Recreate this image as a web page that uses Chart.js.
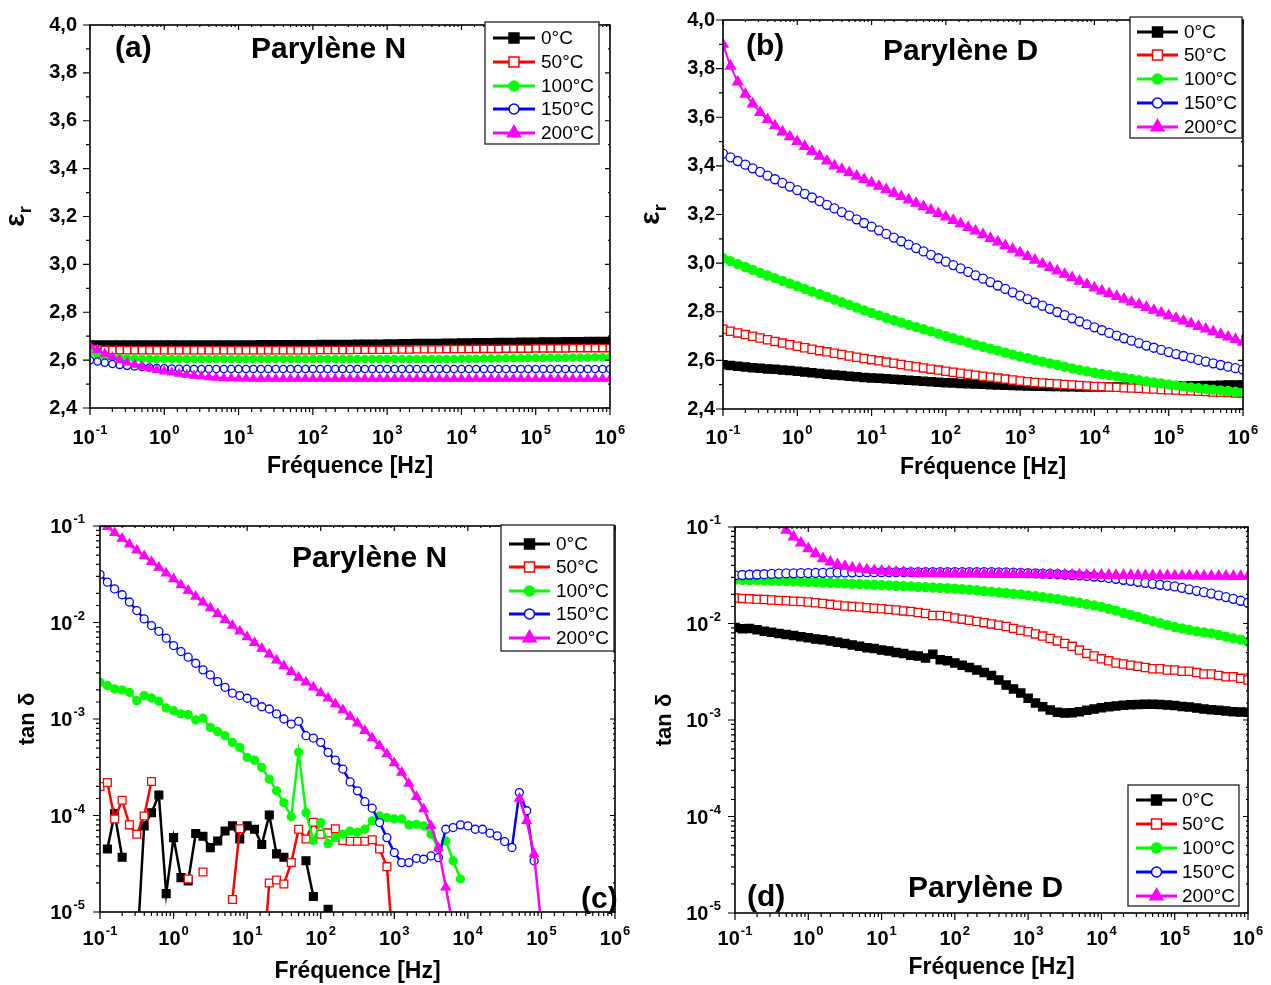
<!DOCTYPE html>
<html>
<head>
<meta charset="utf-8">
<title>Parylène N / D - permittivité et tan δ</title>
<script src="https://cdn.jsdelivr.net/npm/chart.js@4.4.1/dist/chart.umd.min.js"></script>
<style>
  html, body { margin: 0; padding: 0; background: #fff; }
  #wrap { position: relative; width: 1271px; height: 985px; overflow: hidden; }
  #wrap canvas { position: absolute; }
</style>
</head>
<body>
<div id="wrap">
  <canvas id="chartA" width="636" height="490" style="left:0;top:0"></canvas>
  <canvas id="chartB" width="635" height="490" style="left:636px;top:0"></canvas>
  <canvas id="chartC" width="636" height="495" style="left:0;top:490px"></canvas>
  <canvas id="chartD" width="635" height="495" style="left:636px;top:490px"></canvas>
</div>
<script>
// ---- data ----
const temps = ['0°C', '50°C', '100°C', '150°C', '200°C'];

// measurement frequencies, 10 points per decade
const freqHz = [
  0.1, 0.126, 0.158, 0.2, 0.251, 0.316, 0.398, 0.501, 0.631, 0.794,
  1, 1.26, 1.58, 2, 2.51, 3.16, 3.98, 5.01, 6.31, 7.94,
  10, 12.6, 15.8, 20, 25.1, 31.6, 39.8, 50.1, 63.1, 79.4,
  100, 126, 158, 200, 251, 316, 398, 501, 631, 794,
  1000, 1260, 1580, 2000, 2510, 3160, 3980, 5010, 6310, 7940,
  10000, 12600, 15800, 20000, 25100, 31600, 39800, 50100, 63100, 79400,
  100000, 126000, 158000, 200000, 251000, 316000, 398000, 501000, 631000, 794000,
  1000000
];

const epsTicks = [2.4, 2.5, 2.6, 2.7, 2.8, 2.9, 3.0, 3.1, 3.2, 3.3, 3.4, 3.5, 3.6, 3.7, 3.8, 3.9, 4.0];

// (a) Parylène N, eps_r
const nEps0 = [
  2.665, 2.665, 2.665, 2.665, 2.665, 2.665, 2.665, 2.665, 2.665, 2.665,
  2.665, 2.665, 2.665, 2.665, 2.665, 2.665, 2.665, 2.665, 2.665, 2.665,
  2.665, 2.665, 2.665, 2.666, 2.666, 2.666, 2.666, 2.666, 2.666, 2.666,
  2.666, 2.667, 2.667, 2.667, 2.667, 2.667, 2.668, 2.668, 2.668, 2.668,
  2.669, 2.669, 2.670, 2.670, 2.671, 2.671, 2.672, 2.672, 2.673, 2.673,
  2.674, 2.674, 2.675, 2.675, 2.675, 2.676, 2.676, 2.676, 2.677, 2.677,
  2.677, 2.678, 2.678, 2.678, 2.679, 2.679, 2.679, 2.680, 2.680, 2.680,
  2.680
];
const nEps50 = [
  2.648, 2.645, 2.643, 2.642, 2.642, 2.641, 2.641, 2.641, 2.641, 2.641,
  2.641, 2.641, 2.641, 2.641, 2.641, 2.641, 2.641, 2.641, 2.641, 2.641,
  2.641, 2.641, 2.641, 2.641, 2.641, 2.641, 2.641, 2.641, 2.641, 2.641,
  2.641, 2.642, 2.642, 2.642, 2.642, 2.642, 2.643, 2.643, 2.643, 2.643,
  2.643, 2.644, 2.644, 2.644, 2.645, 2.645, 2.645, 2.645, 2.646, 2.646,
  2.646, 2.646, 2.647, 2.647, 2.647, 2.647, 2.648, 2.648, 2.648, 2.648,
  2.649, 2.649, 2.649, 2.649, 2.649, 2.650, 2.650, 2.650, 2.650, 2.650,
  2.650
];
const nEps100 = [
  2.632, 2.622, 2.616, 2.612, 2.610, 2.608, 2.607, 2.606, 2.606, 2.605,
  2.605, 2.605, 2.605, 2.605, 2.605, 2.605, 2.605, 2.605, 2.605, 2.605,
  2.605, 2.605, 2.605, 2.605, 2.605, 2.605, 2.605, 2.605, 2.605, 2.605,
  2.605, 2.605, 2.605, 2.605, 2.605, 2.605, 2.605, 2.605, 2.605, 2.605,
  2.605, 2.605, 2.605, 2.605, 2.605, 2.605, 2.605, 2.605, 2.605, 2.605,
  2.606, 2.606, 2.606, 2.607, 2.607, 2.607, 2.608, 2.608, 2.608, 2.609,
  2.609, 2.609, 2.610, 2.610, 2.610, 2.611, 2.611, 2.611, 2.612, 2.612,
  2.612
];
const nEps150 = [
  2.600, 2.594, 2.589, 2.584, 2.580, 2.576, 2.573, 2.571, 2.569, 2.567,
  2.566, 2.565, 2.564, 2.564, 2.563, 2.563, 2.563, 2.563, 2.563, 2.563,
  2.563, 2.563, 2.563, 2.563, 2.563, 2.563, 2.563, 2.563, 2.563, 2.563,
  2.563, 2.563, 2.563, 2.563, 2.563, 2.563, 2.563, 2.563, 2.563, 2.563,
  2.563, 2.563, 2.563, 2.563, 2.563, 2.563, 2.563, 2.563, 2.563, 2.563,
  2.563, 2.563, 2.563, 2.563, 2.563, 2.563, 2.563, 2.563, 2.563, 2.563,
  2.563, 2.563, 2.563, 2.563, 2.563, 2.563, 2.563, 2.563, 2.563, 2.563,
  2.563
];
const nEps200 = [
  2.658, 2.642, 2.627, 2.613, 2.601, 2.590, 2.581, 2.573, 2.566, 2.559,
  2.553, 2.548, 2.543, 2.539, 2.535, 2.532, 2.529, 2.527, 2.525, 2.524,
  2.523, 2.523, 2.522, 2.522, 2.522, 2.522, 2.522, 2.522, 2.522, 2.522,
  2.522, 2.522, 2.522, 2.522, 2.522, 2.522, 2.522, 2.522, 2.522, 2.522,
  2.522, 2.522, 2.522, 2.522, 2.522, 2.522, 2.522, 2.522, 2.522, 2.522,
  2.522, 2.522, 2.522, 2.522, 2.522, 2.522, 2.522, 2.522, 2.522, 2.522,
  2.522, 2.522, 2.522, 2.522, 2.522, 2.522, 2.522, 2.522, 2.522, 2.522,
  2.522
];

// (b) Parylène D, eps_r
const dEps0 = [
  2.582, 2.579, 2.576, 2.573, 2.570, 2.568, 2.565, 2.563, 2.560, 2.558,
  2.555, 2.552, 2.549, 2.546, 2.543, 2.540, 2.538, 2.535, 2.533, 2.530,
  2.528, 2.526, 2.524, 2.522, 2.520, 2.518, 2.516, 2.514, 2.512, 2.510,
  2.508, 2.507, 2.505, 2.504, 2.503, 2.502, 2.500, 2.499, 2.498, 2.497,
  2.496, 2.495, 2.494, 2.494, 2.493, 2.493, 2.492, 2.492, 2.491, 2.491,
  2.491, 2.491, 2.491, 2.491, 2.492, 2.492, 2.492, 2.493, 2.493, 2.494,
  2.494, 2.495, 2.495, 2.496, 2.496, 2.497, 2.497, 2.498, 2.499, 2.499,
  2.500
];
const dEps50 = [
  2.728, 2.720, 2.713, 2.706, 2.699, 2.692, 2.685, 2.678, 2.671, 2.664,
  2.658, 2.652, 2.646, 2.640, 2.635, 2.629, 2.624, 2.618, 2.613, 2.608,
  2.603, 2.598, 2.593, 2.588, 2.583, 2.578, 2.574, 2.569, 2.564, 2.560,
  2.555, 2.551, 2.547, 2.543, 2.539, 2.535, 2.531, 2.527, 2.523, 2.519,
  2.515, 2.512, 2.509, 2.507, 2.505, 2.503, 2.501, 2.499, 2.497, 2.495,
  2.493, 2.492, 2.490, 2.489, 2.487, 2.486, 2.485, 2.483, 2.482, 2.480,
  2.479, 2.478, 2.476, 2.475, 2.473, 2.472, 2.470, 2.469, 2.468, 2.466,
  2.465
];
const dEps100 = [
  3.020, 3.008, 2.996, 2.984, 2.972, 2.960, 2.949, 2.938, 2.927, 2.916,
  2.905, 2.894, 2.883, 2.872, 2.861, 2.850, 2.839, 2.828, 2.817, 2.806,
  2.795, 2.785, 2.775, 2.765, 2.755, 2.746, 2.737, 2.728, 2.719, 2.710,
  2.700, 2.691, 2.682, 2.673, 2.664, 2.656, 2.648, 2.640, 2.632, 2.624,
  2.616, 2.609, 2.602, 2.595, 2.588, 2.581, 2.574, 2.567, 2.561, 2.555,
  2.549, 2.544, 2.539, 2.534, 2.529, 2.524, 2.519, 2.514, 2.509, 2.505,
  2.501, 2.497, 2.493, 2.489, 2.486, 2.483, 2.480, 2.477, 2.474, 2.471,
  2.468
];
const dEps150 = [
  3.450, 3.435, 3.420, 3.405, 3.390, 3.375, 3.360, 3.345, 3.330, 3.315,
  3.300, 3.285, 3.270, 3.255, 3.240, 3.225, 3.210, 3.195, 3.180, 3.165,
  3.150, 3.135, 3.120, 3.105, 3.090, 3.076, 3.062, 3.048, 3.034, 3.020,
  3.006, 2.992, 2.978, 2.964, 2.950, 2.936, 2.922, 2.908, 2.894, 2.880,
  2.866, 2.852, 2.838, 2.825, 2.812, 2.799, 2.786, 2.773, 2.760, 2.748,
  2.736, 2.724, 2.713, 2.702, 2.691, 2.681, 2.671, 2.661, 2.652, 2.643,
  2.634, 2.626, 2.618, 2.610, 2.602, 2.595, 2.588, 2.581, 2.574, 2.568,
  2.562
];
const dEps200 = [
  3.900, 3.810, 3.745, 3.695, 3.655, 3.620, 3.590, 3.565, 3.540, 3.520,
  3.500, 3.480, 3.460, 3.440, 3.420, 3.400, 3.386, 3.372, 3.358, 3.344,
  3.330, 3.316, 3.302, 3.288, 3.274, 3.260, 3.246, 3.232, 3.218, 3.204,
  3.190, 3.176, 3.162, 3.147, 3.132, 3.117, 3.102, 3.087, 3.072, 3.057,
  3.042, 3.027, 3.012, 2.997, 2.982, 2.968, 2.954, 2.940, 2.926, 2.912,
  2.898, 2.886, 2.875, 2.863, 2.852, 2.840, 2.829, 2.818, 2.806, 2.795,
  2.784, 2.773, 2.762, 2.751, 2.740, 2.729, 2.718, 2.707, 2.696, 2.686,
  2.675
];

// (c) Parylène N, tan delta (null = no point / negative value)
const nTan0 = [
  null, 4.5e-5, 1.05e-4, 3.7e-5, null, 3.6e-6, 7.8e-5, 1.07e-4, 1.63e-4, 1.55e-5,
  5.9e-5, 2.27e-5, 2.1e-5, 6.5e-5, 6.1e-5, 4.65e-5, 5.45e-5, 6.9e-5, 7.8e-5, 5.7e-5,
  7.8e-5, 7.2e-5, 5.0e-5, 1.01e-4, 4.0e-5, 3.7e-5, null, null, 3.4e-5, 1.45e-5,
  null, 1.07e-5, null, null, null, null, null, null, null, null,
  null, null, null, null, null, null, null, null, null, null,
  null, null, null, null, null, null, null, null, null, null,
  null, null, null, null, null, null, null, null, null, null,
  null
];
const nTan50 = [
  2.0e-4, 2.2e-4, 9.2e-5, 1.44e-4, 8.0e-5, 6.4e-5, 9.9e-5, 2.25e-4, null, null,
  null, null, 2.2e-5, null, 2.6e-5, null, null, null, 1.35e-5, 7.3e-5,
  null, null, 2e-6, 2.0e-5, 2.15e-5, 1.95e-5, 3.25e-5, 7.2e-5, 5.7e-5, 8.5e-5,
  6.4e-5, 6.6e-5, 7.3e-5, 5.5e-5, 5.4e-5, 5.4e-5, 5.4e-5, 5.6e-5, 4.5e-5, 2.95e-5,
  3e-6, null, null, null, null, null, null, null, null, null,
  null, null, null, null, null, null, null, null, null, null,
  null, null, null, null, null, null, null, null, null, null,
  null
];
const nTan100 = [
  2.4e-3, 2.22e-3, 2.05e-3, 2.0e-3, 1.89e-3, 1.55e-3, 1.75e-3, 1.65e-3, 1.53e-3, 1.30e-3,
  1.22e-3, 1.13e-3, 1.11e-3, 9.77e-4, 1.02e-3, 8.19e-4, 7.39e-4, 6.72e-4, 5.73e-4, 5.08e-4,
  4.0e-4, 3.75e-4, 3.15e-4, 2.38e-4, 1.8e-4, 1.36e-4, 9.7e-5, 4.51e-4, 1.07e-4, 5.5e-5,
  8.45e-5, 5.1e-5, 5.9e-5, 6.4e-5, 6.9e-5, 6.7e-5, 7.2e-5, 8.8e-5, 9.9e-5, 9.5e-5,
  9.2e-5, 9.2e-5, 8.0e-5, 8.1e-5, 7.8e-5, 6.4e-5, 4.5e-5, 5.45e-5, 3.4e-5, 2.2e-5,
  null, null, null, null, null, null, null, null, null, null,
  null, null, null, null, null, null, null, null, null, null,
  null
];
const nTan150 = [
  3.15e-2, 2.62e-2, 2.23e-2, 1.94e-2, 1.63e-2, 1.33e-2, 1.09e-2, 9.3e-3, 8.1e-3, 6.88e-3,
  5.77e-3, 5.0e-3, 4.37e-3, 3.78e-3, 3.23e-3, 2.86e-3, 2.44e-3, 2.13e-3, 1.85e-3, 1.75e-3,
  1.64e-3, 1.49e-3, 1.34e-3, 1.27e-3, 1.13e-3, 1.0e-3, 8.87e-4, 9.46e-4, 6.71e-4, 6.35e-4,
  5.73e-4, 4.51e-4, 3.75e-4, 3.03e-4, 2.23e-4, 1.8e-4, 1.39e-4, 1.19e-4, 8.45e-5, 5.9e-5,
  4.13e-5, 3.25e-5, 3.25e-5, 3.6e-5, 3.52e-5, 3.81e-5, 3.66e-5, 7.2e-5, 7.5e-5, 8.0e-5,
  7.8e-5, 7.2e-5, 7.2e-5, 6.56e-5, 6.15e-5, 5.37e-5, 4.66e-5, 1.73e-4, 1.12e-4, 3.39e-5,
  null, null, null, null, null, null, null, null, null, null,
  null
];
const nTan200 = [
  0.105, 0.098, 0.0851, 0.0741, 0.0646, 0.0562, 0.049, 0.0427, 0.0372, 0.0324,
  0.0282, 0.0245, 0.0214, 0.0186, 0.0162, 0.0141, 0.0123, 0.0107, 0.00933, 0.00813,
  0.00708, 0.00617, 0.00537, 0.00468, 0.00407, 0.00355, 0.00309, 0.00269, 0.0024, 0.00213,
  0.00186, 0.00164, 0.00143, 0.00124, 0.00106, 9.01e-4, 7.57e-4, 6.35e-4, 5.29e-4, 4.33e-4,
  3.5e-4, 2.79e-4, 2.15e-4, 1.56e-4, 1.17e-4, 7.8e-5, 4.6e-5, 1.8e-5, 7e-6, null,
  null, null, null, null, null, null, null, 1.5e-4, 8.8e-5, 4.0e-5,
  7e-6, null, null, null, null, null, null, null, null, null,
  null
];

// (d) Parylène D, tan delta
const dTan0 = [
  0.0091, 0.0088, 0.0089, 0.0086, 0.0083, 0.0081, 0.0079, 0.0077, 0.0075, 0.0073,
  0.0071, 0.0069, 0.0068, 0.0066, 0.0064, 0.0062, 0.0060, 0.0058, 0.0056, 0.0055,
  0.0053, 0.0052, 0.0050, 0.0049, 0.0047, 0.0046, 0.0044, 0.0048, 0.0042, 0.0041,
  0.0039, 0.0037, 0.0035, 0.0033, 0.0031, 0.0029, 0.0026, 0.0023, 0.0021, 0.0019,
  0.00168, 0.0015, 0.00137, 0.00127, 0.0012, 0.00118, 0.00119, 0.00122, 0.00126, 0.0013,
  0.00134, 0.00137, 0.0014, 0.00142, 0.00144, 0.00145, 0.00146, 0.00146, 0.00145, 0.00143,
  0.00141, 0.00138, 0.00136, 0.00133, 0.0013, 0.00128, 0.00126, 0.00124, 0.00122, 0.00121,
  0.0012
];
const dTan50 = [
  0.0184, 0.0182, 0.0180, 0.0178, 0.0177, 0.0175, 0.0173, 0.0172, 0.0170, 0.0169,
  0.0167, 0.0164, 0.0161, 0.0158, 0.0155, 0.0152, 0.0150, 0.0148, 0.0146, 0.0144,
  0.0142, 0.0140, 0.0138, 0.0135, 0.0133, 0.0130, 0.0127, 0.0121, 0.0121, 0.0118,
  0.0114, 0.0111, 0.0108, 0.0105, 0.0102, 0.0099, 0.0096, 0.0093, 0.0089, 0.0085,
  0.0082, 0.0078, 0.0074, 0.0070, 0.0066, 0.0062, 0.0058, 0.0053, 0.0049, 0.0046,
  0.0043, 0.0041, 0.0039, 0.0038, 0.0037, 0.0036, 0.0035, 0.0034, 0.0034, 0.0033,
  0.0033, 0.0032, 0.0032, 0.0031, 0.0030, 0.0030, 0.0029, 0.0028, 0.0028, 0.0027,
  0.0026
];
const dTan100 = [
  0.0285, 0.0284, 0.0282, 0.0281, 0.0279, 0.0278, 0.0276, 0.0275, 0.0273, 0.0272,
  0.0270, 0.0268, 0.0266, 0.0264, 0.0262, 0.0260, 0.0258, 0.0256, 0.0254, 0.0252,
  0.0250, 0.0248, 0.0246, 0.0244, 0.0242, 0.0240, 0.0238, 0.0236, 0.0234, 0.0232,
  0.0230, 0.0227, 0.0224, 0.0221, 0.0217, 0.0214, 0.0210, 0.0207, 0.0203, 0.0200,
  0.0196, 0.0192, 0.0188, 0.0183, 0.0179, 0.0174, 0.0169, 0.0164, 0.0159, 0.0154,
  0.0149, 0.0142, 0.0136, 0.0129, 0.0123, 0.0117, 0.0111, 0.0106, 0.0101, 0.0096,
  0.0092, 0.0089, 0.0086, 0.0083, 0.0081, 0.0079, 0.0076, 0.0073, 0.0070, 0.0068,
  0.0065
];
const dTan150 = [
  0.0316, 0.0318, 0.0320, 0.0322, 0.0324, 0.0326, 0.0328, 0.0330, 0.0331, 0.0332,
  0.0333, 0.0334, 0.0335, 0.0336, 0.0337, 0.0338, 0.0339, 0.0340, 0.0340, 0.0340,
  0.0340, 0.0341, 0.0341, 0.0341, 0.0341, 0.0341, 0.0341, 0.0341, 0.0341, 0.0341,
  0.0341, 0.0341, 0.0341, 0.0340, 0.0340, 0.0340, 0.0339, 0.0338, 0.0337, 0.0335,
  0.0333, 0.0331, 0.0329, 0.0327, 0.0324, 0.0321, 0.0318, 0.0315, 0.0311, 0.0307,
  0.0303, 0.0297, 0.0291, 0.0284, 0.0277, 0.0270, 0.0264, 0.0258, 0.0252, 0.0247,
  0.0242, 0.0234, 0.0226, 0.0218, 0.0211, 0.0204, 0.0196, 0.0188, 0.0180, 0.0172,
  0.0164
];
const dTan200 = [
  0.30, 0.25, 0.205, 0.17, 0.145, 0.125, 0.107, 0.0924, 0.0788, 0.0683,
  0.0597, 0.053, 0.047, 0.0434, 0.0407, 0.0392, 0.0377, 0.0368, 0.0360, 0.0354,
  0.0349, 0.0345, 0.0341, 0.0338, 0.0335, 0.0333, 0.0331, 0.0330, 0.0329, 0.0328,
  0.0327, 0.0327, 0.0326, 0.0326, 0.0325, 0.0325, 0.0324, 0.0324, 0.0323, 0.0323,
  0.0322, 0.0322, 0.0321, 0.0321, 0.0320, 0.0320, 0.0319, 0.0319, 0.0318, 0.0318,
  0.0317, 0.0317, 0.0316, 0.0316, 0.0315, 0.0315, 0.0314, 0.0314, 0.0313, 0.0313,
  0.0312, 0.0312, 0.0311, 0.0311, 0.0310, 0.0310, 0.0309, 0.0309, 0.0308, 0.0308,
  0.0307
];

// ---- styles ----
const FONT = "'Liberation Sans', Arial, Helvetica, sans-serif";

const seriesLook = [
  { line: '#000000', fill: '#000000', shape: 'rect' },
  { line: '#ff0000', fill: '#ffffff', shape: 'rect' },
  { line: '#00ff00', fill: '#00ff00', shape: 'circle' },
  { line: '#0000ff', fill: '#ffffff', shape: 'circle' },
  { line: '#ff00ff', fill: '#ff00ff', shape: 'triangle' }
];
const legendMarker = { rect: 7, circle: 5, triangle: 7.5 };

function isDecade(v) {
  const l = Math.log10(v);
  return Math.abs(l - Math.round(l)) < 1e-6;
}
function isEvenTenth(v) {
  return Math.abs(Math.round(v * 10)) % 2 === 0;
}
function commaLabel(v) {
  return isEvenTenth(v) ? v.toFixed(1).replace('.', ',') : '';
}

// "10" with a raised exponent; align = 'center' or 'right'
function drawPower(ctx, v, x, baseline, align) {
  const exp = String(Math.round(Math.log10(v)));
  ctx.font = 'bold 20px ' + FONT;
  const wBase = ctx.measureText('10').width;
  ctx.font = 'bold 13px ' + FONT;
  const wExp = ctx.measureText(exp).width;
  const total = wBase + 1 + wExp;
  const left = align === 'center' ? x - total / 2 : x - total;
  ctx.textAlign = 'left';
  ctx.textBaseline = 'alphabetic';
  ctx.font = 'bold 20px ' + FONT;
  ctx.fillText('10', left, baseline);
  ctx.font = 'bold 13px ' + FONT;
  ctx.fillText(exp, left + wBase + 1, baseline - 10);
}

function drawMarker(ctx, shape, x, y, r) {
  ctx.beginPath();
  if (shape === 'rect') {
    const s = r * Math.SQRT1_2;
    ctx.rect(x - s, y - s, 2 * s, 2 * s);
  } else if (shape === 'triangle') {
    for (let k = 0; k < 3; k++) {
      const ang = k * 2 * Math.PI / 3;
      const px = x + Math.sin(ang) * r, py = y - Math.cos(ang) * r;
      if (k === 0) ctx.moveTo(px, py); else ctx.lineTo(px, py);
    }
    ctx.closePath();
  } else {
    ctx.arc(x, y, r, 0, Math.PI * 2);
  }
  ctx.fill();
  ctx.stroke();
}

// frame with mirrored ticks, power-of-ten labels, boxed legend and in-plot labels
const framePlugin = {
  id: 'frame',
  afterDraw(chart, args, opts) {
    const { ctx, chartArea: a } = chart;
    const xs = chart.scales.x, ys = chart.scales.y;
    ctx.save();
    ctx.strokeStyle = '#000';
    ctx.lineWidth = 1.2;
    ctx.beginPath();
    xs.ticks.forEach(t => {
      const px = xs.getPixelForValue(t.value);
      const len = isDecade(t.value) ? 7 : 4;
      ctx.moveTo(px, a.bottom); ctx.lineTo(px, a.bottom + len);
      ctx.moveTo(px, a.top); ctx.lineTo(px, a.top + len - 2);
    });
    ys.ticks.forEach(t => {
      const py = ys.getPixelForValue(t.value);
      const len = opts.majorY(t.value) ? 7 : 4;
      ctx.moveTo(a.left, py); ctx.lineTo(a.left - len, py);
      ctx.moveTo(a.right, py); ctx.lineTo(a.right - len + 2, py);
    });
    ctx.stroke();
    ctx.lineWidth = 1.6;
    ctx.strokeRect(a.left, a.top, a.right - a.left, a.bottom - a.top);

    // tick labels of the log axes
    ctx.fillStyle = '#000';
    xs.ticks.forEach(t => {
      if (isDecade(t.value)) drawPower(ctx, t.value, xs.getPixelForValue(t.value), a.bottom + opts.xLabelDrop, 'center');
    });
    if (opts.yLog) {
      ys.ticks.forEach(t => {
        if (isDecade(t.value)) drawPower(ctx, t.value, a.left - opts.yLabelGap, ys.getPixelForValue(t.value) + 7, 'right');
      });
    }

    // epsilon_r axis title with a real subscript
    if (opts.epsTitle) {
      ctx.save();
      ctx.translate(opts.epsTitle.x, (a.top + a.bottom) / 2);
      ctx.rotate(-Math.PI / 2);
      ctx.font = 'bold 28px ' + FONT;
      const wE = ctx.measureText('ε').width;
      ctx.font = 'bold 18px ' + FONT;
      const wR = ctx.measureText('r').width;
      const left = -(wE + wR) / 2;
      ctx.textAlign = 'left';
      ctx.textBaseline = 'alphabetic';
      ctx.font = 'bold 28px ' + FONT;
      ctx.fillText('ε', left, 0);
      ctx.font = 'bold 18px ' + FONT;
      ctx.fillText('r', left + wE, 7);
      ctx.restore();
    }

    const lg = opts.legend;
    ctx.fillStyle = '#fff';
    ctx.fillRect(lg.x, lg.y, lg.w, lg.h);
    ctx.strokeStyle = '#222';
    ctx.lineWidth = 1.3;
    ctx.strokeRect(lg.x, lg.y, lg.w, lg.h);
    ctx.font = '19px ' + FONT;
    ctx.textBaseline = 'middle';
    ctx.textAlign = 'left';
    chart.data.datasets.forEach((ds, i) => {
      const ry = lg.rows[i];
      ctx.strokeStyle = ds.borderColor;
      ctx.lineWidth = 3;
      ctx.beginPath();
      ctx.moveTo(lg.lineX0, ry);
      ctx.lineTo(lg.lineX1, ry);
      ctx.stroke();
      ctx.fillStyle = ds.pointBackgroundColor;
      ctx.lineWidth = 1.5;
      drawMarker(ctx, ds.pointStyle, (lg.lineX0 + lg.lineX1) / 2, ry, legendMarker[ds.pointStyle]);
      ctx.fillStyle = '#000';
      ctx.fillText(ds.label, lg.textX, ry + 1);
    });

    ctx.font = 'bold 30px ' + FONT;
    ctx.textBaseline = 'alphabetic';
    ctx.fillStyle = '#000';
    opts.texts.forEach(t => ctx.fillText(t.text, t.x, t.y));
    ctx.restore();
  }
};

function makeChart(p) {
  const datasets = p.values.map((data, i) => {
    const look = seriesLook[i];
    return {
      label: temps[i],
      data: data,
      borderColor: look.line,
      backgroundColor: look.fill,
      pointBackgroundColor: look.fill,
      pointBorderColor: look.line,
      pointStyle: look.shape,
      pointRadius: p.sizes[look.shape],
      pointBorderWidth: 1.3,
      borderWidth: p.lineW,
      tension: 0,
      spanGaps: false,
      order: p.values.length - i
    };
  });

  const yScale = p.yLog ? {
    type: 'logarithmic', min: 1e-5, max: 0.1,
    ticks: { display: false }
  } : {
    type: 'linear', min: 2.4, max: 4.0,
    afterBuildTicks: s => { s.ticks = epsTicks.map(v => ({ value: v })); },
    ticks: {
      autoSkip: false, padding: p.yTickPad, color: '#000',
      font: { family: FONT, size: 20, weight: 'bold' },
      callback: v => commaLabel(v)
    }
  };
  yScale.grid = { display: false, drawTicks: false };
  yScale.border = { display: false };
  yScale.afterFit = s => { s.width = p.yW; };
  yScale.title = p.yLog ? {
    display: true, text: 'tan δ', color: '#000',
    font: { family: FONT, size: 22, weight: 'bold' },
    padding: { top: p.yTitlePad, bottom: 0 }
  } : { display: false };

  return new Chart(document.getElementById(p.id), {
    type: 'line',
    data: { labels: freqHz, datasets: datasets },
    options: {
      responsive: false,
      animation: false,
      events: [],
      layout: { padding: { left: 0, top: p.padTop, right: p.padRight, bottom: 0 } },
      plugins: {
        legend: { display: false },
        tooltip: { enabled: false },
        frame: {
          majorY: p.yLog ? isDecade : isEvenTenth,
          yLog: p.yLog,
          xLabelDrop: p.xLabelDrop,
          yLabelGap: p.yLabelGap,
          epsTitle: p.epsTitle,
          legend: p.legend,
          texts: p.texts
        }
      },
      scales: {
        x: {
          type: 'logarithmic', min: 0.1, max: 1e6,
          afterFit: s => { s.height = p.xH; },
          grid: { display: false, drawTicks: false },
          border: { display: false },
          ticks: { display: false, autoSkip: false },
          title: {
            display: true, text: 'Fréquence [Hz]', color: '#000',
            font: { family: FONT, size: 23, weight: 'bold' },
            padding: { top: 0, bottom: p.xTitlePad }
          }
        },
        y: yScale
      }
    },
    plugins: [framePlugin]
  });
}

const panels = [
  {
    id: 'chartA', values: [nEps0, nEps50, nEps100, nEps150, nEps200], yLog: false,
    epsTitle: { x: 24 },
    padTop: 15, padRight: 26, yW: 90, xH: 82, yTickPad: 13, xLabelDrop: 36, xTitlePad: 10,
    sizes: { rect: 5.1, circle: 3.6, triangle: 4.8 }, lineW: 2,
    legend: { x: 485, y: 22, w: 114, h: 122, rows: [38, 62, 86, 109, 133], lineX0: 493, lineX1: 535, textX: 541 },
    texts: [{ text: '(a)', x: 115, y: 57 }, { text: 'Parylène N', x: 251, y: 58 }]
  },
  {
    id: 'chartB', values: [dEps0, dEps50, dEps100, dEps150, dEps200], yLog: false,
    epsTitle: { x: 23 },
    padTop: 20, padRight: 28, yW: 87, xH: 81, yTickPad: 8, xLabelDrop: 35, xTitlePad: 9,
    sizes: { rect: 5.8, circle: 4.5, triangle: 5.8 }, lineW: 2,
    legend: { x: 494, y: 17, w: 112, h: 121, rows: [32, 55, 79, 103, 127], lineX0: 501, lineX1: 542, textX: 548 },
    texts: [{ text: '(b)', x: 110, y: 55 }, { text: 'Parylène D', x: 247, y: 60 }]
  },
  {
    id: 'chartC', values: [nTan0, nTan50, nTan100, nTan150, nTan200], yLog: true,
    yTitlePad: 15,
    padTop: 36, padRight: 21, yW: 100, xH: 73, yLabelGap: 15, xLabelDrop: 33, xTitlePad: 0,
    sizes: { rect: 5.5, circle: 4, triangle: 5.2 }, lineW: 2.5,
    legend: { x: 501, y: 35, w: 113, h: 126, rows: [54, 77, 101, 124, 148], lineX0: 509, lineX1: 550, textX: 556 },
    texts: [{ text: 'Parylène N', x: 292, y: 77 }, { text: '(c)', x: 581, y: 418 }]
  },
  {
    id: 'chartD', values: [dTan0, dTan50, dTan100, dTan150, dTan200], yLog: true,
    yTitlePad: 16,
    padTop: 37, padRight: 23, yW: 99, xH: 72, yLabelGap: 14, xLabelDrop: 32, xTitlePad: 4,
    sizes: { rect: 5.8, circle: 4.5, triangle: 5.8 }, lineW: 2,
    legend: { x: 492, y: 295, w: 111, h: 121, rows: [310, 334, 358, 382, 406], lineX0: 500, lineX1: 541, textX: 546 },
    texts: [{ text: '(d)', x: 111, y: 416 }, { text: 'Parylène D', x: 272, y: 407 }]
  }
];

panels.forEach(makeChart);
</script>
</body>
</html>
